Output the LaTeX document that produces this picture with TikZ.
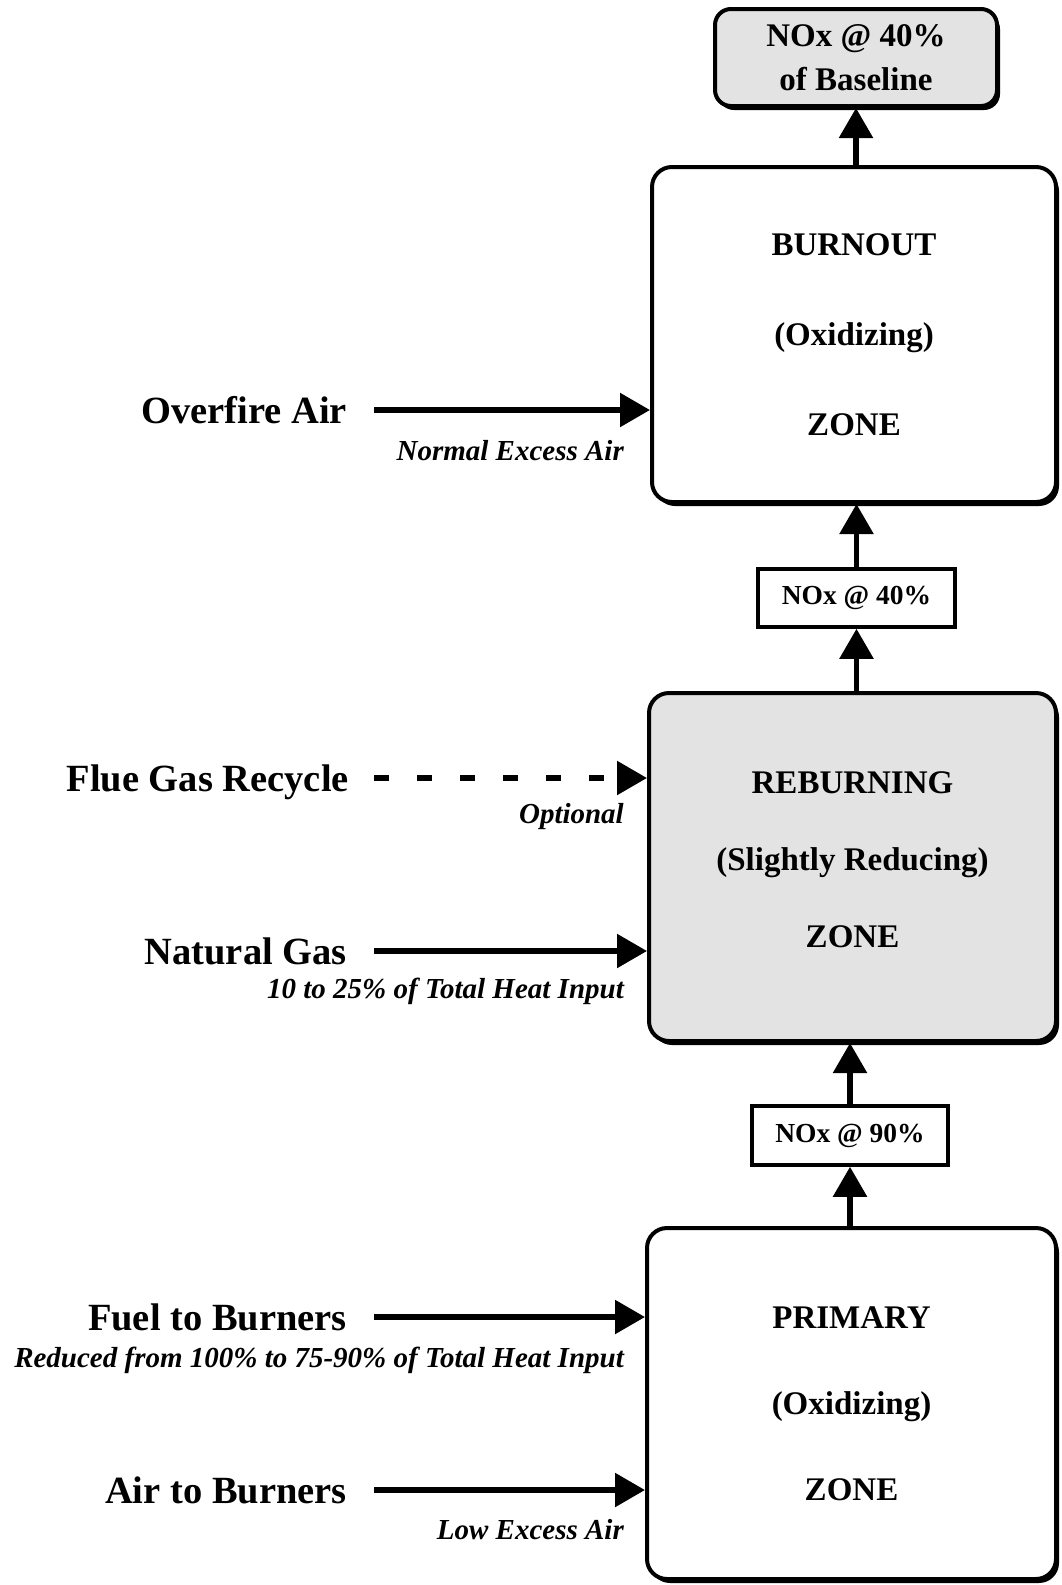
\documentclass[tikz,border=0pt]{standalone}
\usepackage{fontspec}
\setmainfont{Liberation Serif}
\usetikzlibrary{arrows.meta,shadows}
\begin{document}
\begin{tikzpicture}[x=1pt,y=-1pt,
  zonebox/.style={draw, line width=4pt, rounded corners=20pt, fill=white, inner sep=0pt,
    align=center, drop shadow={shadow xshift=3pt, shadow yshift=-4pt, fill=black, opacity=1}},
  shaded/.style={fill=gray!22},
  zonetext/.style={align=center, inner sep=0pt},
  noxbox/.style={draw, line width=3.5pt, fill=white, inner sep=0pt, font=\fontsize{27.5}{30}\selectfont\bfseries},
  inlab/.style={anchor=east, inner sep=0pt, text height=27pt, text depth=0pt, font=\fontsize{38.5}{42}\selectfont\bfseries},
  note/.style={anchor=east, inner sep=0pt, font=\fontsize{29}{32}\selectfont\bfseries\itshape},
  arr/.style={line width=5.5pt, -{Triangle[length=30pt,width=33pt]}},
  darr/.style={arr, dash pattern=on 15pt off 28pt}
]
\useasboundingbox (0,0) rectangle (1062,1585);

% boxes
\node[zonebox, shaded, rounded corners=16pt, minimum width=282pt, minimum height=97pt,
  font=\fontsize{33}{44}\selectfont\bfseries] (top) at (856,57.5) {NOx @ 40\%\\of Baseline};
\node[zonebox, minimum width=404pt, minimum height=335pt,
  font=\fontsize{33}{90}\selectfont\bfseries] (burn) at (854,334.5) {BURNOUT\\(Oxidizing)\\ZONE};
\node[noxbox, minimum width=197pt, minimum height=58pt] (n40) at (856.5,598) {NOx @ 40\%};
\node[zonebox, shaded, minimum width=407pt, minimum height=348pt] (reburn) at (852.5,867) {};
\node[zonetext, font=\fontsize{33}{77}\selectfont\bfseries] (reburnT) at ([yshift=7pt]reburn.center) {REBURNING\\(Slightly Reducing)\\ZONE};
\node[noxbox, minimum width=196pt, minimum height=59pt] (n90) at (850,1135.5) {NOx @ 90\%};
\node[zonebox, minimum width=409pt, minimum height=351pt,
  font=\fontsize{33}{86}\selectfont\bfseries] (prim) at (851.5,1403.5) {PRIMARY\\(Oxidizing)\\ZONE};

% vertical flow
\draw[arr] (n90.south |- prim.north) -- (n90.south);
\draw[arr] (n90.north) -- (n90.north |- reburn.south);
\draw[arr] (n40.south |- reburn.north) -- (n40.south);
\draw[arr] (n40.north) -- (n40.north |- burn.south);
\draw[arr] (top.south |- burn.north) -- (top.south);

% inputs
\node[inlab] (ofa) at (347,410) {Overfire Air};
\node[inlab] (fgr) at (349,778) {Flue Gas Recycle};
\node[inlab] (ng)  at (347,951) {Natural Gas};
\node[inlab] (fb)  at (347,1317) {Fuel to Burners};
\node[inlab] (ab)  at (347,1490) {Air to Burners};

\draw[arr]  ([xshift=27pt]ofa.east) -- (ofa.east -| burn.west);
\draw[darr] ([xshift=25pt]fgr.east) -- (fgr.east -| reburn.west);
\draw[arr]  ([xshift=27pt]ng.east) -- (ng.east -| reburn.west);
\draw[arr]  ([xshift=27pt]fb.east) -- (fb.east -| prim.west);
\draw[arr]  ([xshift=27pt]ab.east) -- (ab.east -| prim.west);

\node[note] (n1) at (624,451) {Normal Excess Air};
\node[note] (n2) at (624,817) {Optional};
\node[note] (n3) at (624,991) {10 to 25\% of Total Heat Input};
\node[note] (n4) at (624,1360) {Reduced from 100\% to 75-90\% of Total Heat Input};
\node[note] (n5) at (624,1530) {Low Excess Air};
\end{tikzpicture}
\end{document}
